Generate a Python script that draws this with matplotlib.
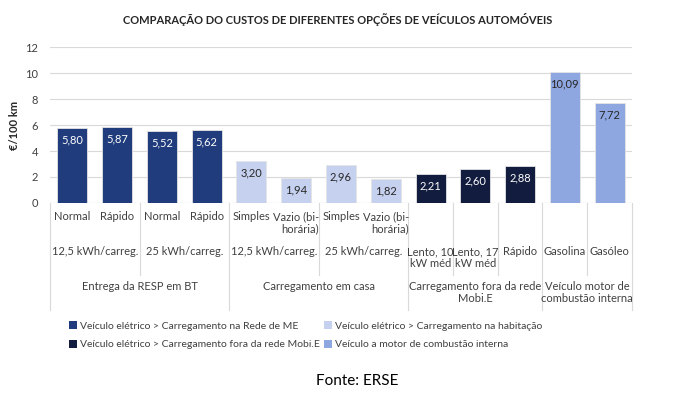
import matplotlib.pyplot as plt
import matplotlib.transforms as mtransforms
from matplotlib.patches import Patch

plt.rcParams['font.family'] = ['Lato', 'DejaVu Sans']

# Data
values = [5.80, 5.87, 5.52, 5.62, 3.20, 1.94, 2.96, 1.82, 2.21, 2.60, 2.88, 10.09, 7.72]
series_idx = [0, 0, 0, 0, 1, 1, 1, 1, 2, 2, 2, 3, 3]
series_names = ['Veículo elétrico > Carregamento na Rede de ME',
                'Veículo elétrico > Carregamento na habitação',
                'Veículo elétrico > Carregamento fora da rede Mobi.E',
                'Veículo a motor de combustão interna']
series_colors = ['#203C7C', '#C6D1EF', '#121C3E', '#8FA7E0']
label_colors = ['white', '#262626', 'white', '#262626']

level1 = ['Normal', 'Rápido', 'Normal', 'Rápido', 'Simples', 'Vazio (bi-\nhorária)',
          'Simples', 'Vazio (bi-\nhorária)', '', '', '', '', '']
level2 = [('12,5 kWh/carreg.', 0, 2), ('25 kWh/carreg.', 2, 4),
          ('12,5 kWh/carreg.', 4, 6), ('25 kWh/carreg.', 6, 8),
          ('Lento, 10\nkW méd', 8, 9), ('Lento, 17\nkW méd', 9, 10), ('Rápido', 10, 11),
          ('Gasolina', 11, 12), ('Gasóleo', 12, 13)]
level3 = [('Entrega da RESP em BT', 0, 4), ('Carregamento em casa', 4, 8),
          ('Carregamento fora da rede\nMobi.E', 8, 11),
          ('Veículo motor de\ncombustão interna', 11, 13)]

TXT = '#404040'
GRID = '#D9D9D9'

fig = plt.figure(figsize=(6.77, 3.95), dpi=100)
ax = fig.add_axes([50 / 677, 1 - 203 / 395, 582 / 677, 156 / 395])

x = list(range(len(values)))
bars = ax.bar(x, values, width=0.67,
              color=[series_colors[s] for s in series_idx],
              edgecolor='#E4E4E4', linewidth=0.6, zorder=3)

for b, v, s in zip(bars, values, series_idx):
    ax.annotate(f'{v:.2f}'.replace('.', ','),
                (b.get_x() + b.get_width() / 2, v),
                xytext=(0, -12), textcoords='offset pixels',
                ha='center', va='center', fontsize=8, color=label_colors[s], zorder=4)

ax.set_xlim(-0.5, len(values) - 0.5)
ax.set_ylim(0, 12)
ax.set_yticks(range(0, 13, 2))
ax.tick_params(axis='y', length=0, labelsize=8, labelcolor=TXT, pad=8.5)
ax.set_xticks([])
ax.grid(axis='y', color=GRID, linewidth=0.8, zorder=0)
for sp in ax.spines.values():
    sp.set_visible(False)
ax.axhline(0, color=GRID, linewidth=0.8, zorder=2)
ax.set_ylabel('€/100 km', fontsize=8, fontweight='bold', color='#262626', labelpad=4)


# multi-level category axis
def yf(px):
    return (203 - px) / 156


trans = mtransforms.blended_transform_factory(ax.transData, ax.transAxes)
for i, lab in enumerate(level1):
    if lab:
        ax.text(i, yf(211), lab, transform=trans, ha='center', va='top',
                multialignment='right', fontsize=8, color=TXT, linespacing=1.1)
for lab, a, b in level2:
    ax.text((a + b - 1) / 2, yf(246), lab, transform=trans, ha='center', va='top',
            fontsize=8, color=TXT, linespacing=1.1)
for lab, a, b in level3:
    ax.text((a + b - 1) / 2, yf(281), lab, transform=trans, ha='center', va='top',
            fontsize=8, color=TXT, linespacing=1.1)

edges3 = sorted({a for _, a, _ in level3} | {b for _, _, b in level3})
edges2 = sorted(({a for _, a, _ in level2} | {b for _, _, b in level2}) - set(edges3))
for e in edges2:
    ax.plot([e - 0.5, e - 0.5], [0, yf(275)], transform=trans, color=GRID,
            linewidth=0.8, clip_on=False)
for e in edges3:
    ax.plot([e - 0.5, e - 0.5], [0, yf(310)], transform=trans, color=GRID,
            linewidth=0.8, clip_on=False)

# legend
handles = [Patch(facecolor=series_colors[i], label=series_names[i]) for i in [0, 2, 1, 3]]
fig.legend(handles=handles, ncol=2, loc='upper left',
           bbox_to_anchor=(64 / 677, 1 - 316 / 395), frameon=False,
           fontsize=7.5, handlelength=0.75, handleheight=0.75, handletextpad=0.3,
           labelspacing=0.9, columnspacing=0.4, borderpad=0, labelcolor=TXT)

fig.text(338 / 677, 1 - 20 / 395,
         'COMPARAÇÃO DO CUSTOS DE DIFERENTES OPÇÕES DE VEÍCULOS AUTOMÓVEIS',
         ha='center', va='center', fontsize=8, fontweight='bold', color='#262626')
fig.text(357 / 677, 1 - 381 / 395, 'Fonte: ERSE', ha='center', va='center',
         fontsize=11, color='black')

fig.savefig('out.png', dpi=100)
